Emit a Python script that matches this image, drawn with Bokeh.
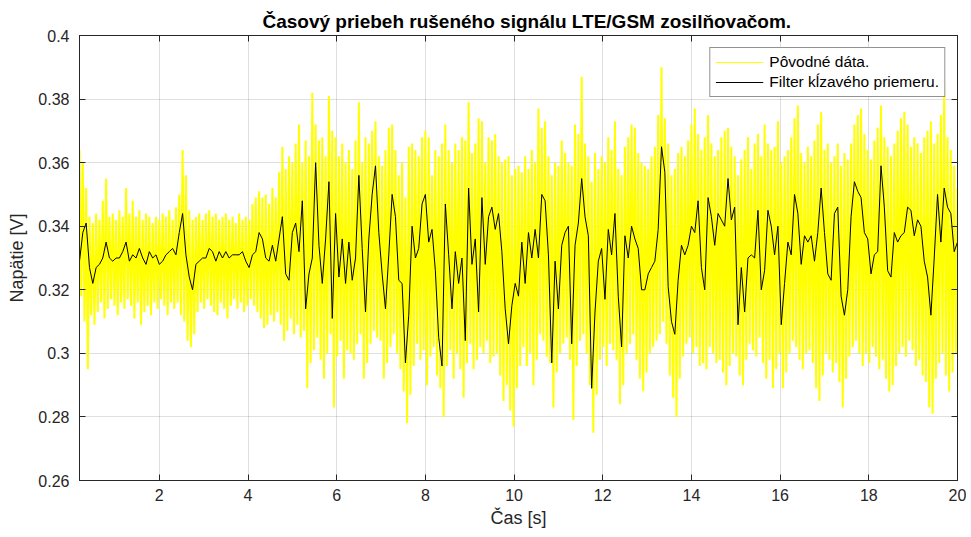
import numpy as np
from bokeh.plotting import figure
from bokeh.models import FixedTicker, LinearAxis, Range1d, Legend, LegendItem
from bokeh.embed import file_html
from bokeh.resources import INLINE

# ---- data ----
title_text = "Časový priebeh rušeného signálu LTE/GSM zosilňovačom."
x_label = "Čas [s]"
y_label = "Napätie [V]"
legend_labels = ["Pôvodné dáta.", "Filter kĺzavého priemeru."]
x_ticks = [2, 4, 6, 8, 10, 12, 14, 16, 18, 20]
y_ticks = [0.26, 0.28, 0.30, 0.32, 0.34, 0.36, 0.38, 0.40]
y_tick_labels = ["0.26", "0.28", "0.3", "0.32", "0.34", "0.36", "0.38", "0.4"]
t_start, t_end = 0.2, 20.0

# moving-average filter (black)
black = [
    0.329, 0.338, 0.341, 0.327, 0.322, 0.327, 0.328, 0.330, 0.335, 0.330,
    0.329, 0.330, 0.330, 0.332, 0.335, 0.329, 0.331, 0.330, 0.333, 0.330,
    0.328, 0.332, 0.330, 0.331, 0.328, 0.329, 0.331, 0.332, 0.333, 0.331,
    0.338, 0.344, 0.331, 0.324, 0.320, 0.328, 0.329, 0.330, 0.330, 0.333,
    0.332, 0.329, 0.332, 0.330, 0.332, 0.330, 0.331, 0.331, 0.331, 0.332,
    0.329, 0.327, 0.331, 0.332, 0.338, 0.336, 0.330, 0.329, 0.334, 0.329,
    0.336, 0.343, 0.325, 0.323, 0.338, 0.341, 0.332,
    0.348, 0.314, 0.325, 0.330, 0.360, 0.334, 0.322, 0.336, 0.354, 0.311,
    0.344, 0.324, 0.336, 0.322, 0.335, 0.323, 0.330, 0.356, 0.333, 0.313,
    0.336, 0.350, 0.359, 0.338, 0.325, 0.314, 0.331, 0.350, 0.343, 0.323,
    0.322, 0.297, 0.312, 0.340, 0.330, 0.333, 0.347, 0.350, 0.335, 0.339,
    0.326, 0.305, 0.296, 0.347, 0.331, 0.314, 0.332, 0.322, 0.330, 0.304,
    0.352, 0.328, 0.336, 0.313, 0.349, 0.328, 0.343, 0.346, 0.339, 0.344,
    0.332, 0.314, 0.303, 0.315, 0.322, 0.318,
    0.335, 0.322, 0.338, 0.330, 0.339, 0.330, 0.350, 0.348, 0.331, 0.297,
    0.329, 0.314, 0.334, 0.338, 0.340, 0.303, 0.334, 0.341, 0.355, 0.343,
    0.337, 0.289, 0.313, 0.329, 0.333, 0.317, 0.339, 0.331, 0.344, 0.318,
    0.302, 0.337, 0.330, 0.340, 0.336, 0.333, 0.320, 0.320, 0.325, 0.327,
    0.329, 0.339, 0.365, 0.357, 0.321, 0.310, 0.306, 0.323, 0.334, 0.331,
    0.334, 0.340, 0.338, 0.348, 0.327, 0.320, 0.349, 0.343, 0.334, 0.344,
    0.342, 0.340, 0.355, 0.342, 0.346, 0.309,
    0.327, 0.313, 0.330, 0.331, 0.330, 0.345, 0.320, 0.326, 0.345, 0.340,
    0.331, 0.340, 0.309, 0.322, 0.335, 0.331, 0.350, 0.344, 0.328, 0.337,
    0.335, 0.337, 0.329, 0.338, 0.352, 0.338, 0.325, 0.323, 0.344, 0.346,
    0.318, 0.312, 0.320, 0.343, 0.354, 0.351, 0.349, 0.338, 0.336, 0.325,
    0.331, 0.332, 0.359, 0.346, 0.326, 0.324, 0.338, 0.335, 0.337, 0.338,
    0.346, 0.345, 0.337, 0.342, 0.340, 0.329, 0.324, 0.312, 0.330, 0.350,
    0.335, 0.352, 0.346, 0.344, 0.332, 0.335,
]

# raw data (yellow): local spike tops and bottoms
raw_hi = [
    0.364, 0.360, 0.352, 0.343, 0.341, 0.344, 0.342, 0.348, 0.355, 0.343,
    0.344, 0.342, 0.345, 0.343, 0.352, 0.344, 0.348, 0.343, 0.345, 0.342,
    0.344, 0.343, 0.341, 0.343, 0.342, 0.344, 0.343, 0.345, 0.342, 0.346,
    0.350, 0.364, 0.356, 0.345, 0.342, 0.343, 0.344, 0.342, 0.344, 0.345,
    0.343, 0.344, 0.342, 0.343, 0.344, 0.342, 0.343, 0.341, 0.344, 0.342,
    0.343, 0.342, 0.347, 0.349, 0.351, 0.349, 0.350, 0.347, 0.352, 0.349,
    0.357, 0.365, 0.358, 0.362, 0.360, 0.366, 0.372,
    0.360, 0.367, 0.362, 0.382, 0.372, 0.367, 0.368, 0.362, 0.381, 0.370,
    0.368, 0.362, 0.366, 0.360, 0.364, 0.358, 0.367, 0.379, 0.360, 0.368,
    0.366, 0.370, 0.373, 0.362, 0.359, 0.364, 0.371, 0.372, 0.364, 0.356,
    0.360, 0.349, 0.365, 0.366, 0.364, 0.362, 0.368, 0.370, 0.368, 0.356,
    0.364, 0.362, 0.366, 0.372, 0.364, 0.360, 0.366, 0.364, 0.368, 0.367,
    0.379, 0.363, 0.366, 0.374, 0.373, 0.360, 0.368, 0.367, 0.369, 0.362,
    0.360, 0.361, 0.362, 0.356, 0.358, 0.359,
    0.357, 0.362, 0.358, 0.364, 0.360, 0.377, 0.371, 0.373, 0.362, 0.356,
    0.360, 0.359, 0.367, 0.363, 0.360, 0.359, 0.372, 0.369, 0.387, 0.366,
    0.362, 0.354, 0.363, 0.358, 0.362, 0.360, 0.368, 0.364, 0.373, 0.358,
    0.356, 0.365, 0.368, 0.372, 0.371, 0.363, 0.360, 0.359, 0.358, 0.362,
    0.365, 0.375, 0.390, 0.374, 0.366, 0.356, 0.358, 0.363, 0.365, 0.362,
    0.367, 0.372, 0.377, 0.369, 0.364, 0.368, 0.375, 0.366, 0.362, 0.364,
    0.368, 0.370, 0.371, 0.365, 0.362, 0.356,
    0.361, 0.364, 0.368, 0.358, 0.366, 0.369, 0.362, 0.372, 0.366, 0.364,
    0.365, 0.373, 0.360, 0.362, 0.364, 0.368, 0.374, 0.378, 0.363, 0.360,
    0.365, 0.362, 0.367, 0.372, 0.376, 0.364, 0.366, 0.360, 0.362, 0.366,
    0.359, 0.363, 0.361, 0.366, 0.372, 0.375, 0.377, 0.369, 0.364, 0.361,
    0.367, 0.371, 0.378, 0.368, 0.365, 0.362, 0.366, 0.370, 0.374, 0.376,
    0.372, 0.365, 0.368, 0.366, 0.363, 0.368, 0.370, 0.373, 0.366, 0.369,
    0.375, 0.385, 0.368, 0.364, 0.359, 0.352,
]
raw_lo = [
    0.318, 0.310, 0.295, 0.312, 0.309, 0.313, 0.316, 0.311, 0.314, 0.317,
    0.315, 0.312, 0.316, 0.314, 0.317, 0.315, 0.311, 0.316, 0.309, 0.313,
    0.315, 0.312, 0.316, 0.314, 0.317, 0.315, 0.312, 0.316, 0.314, 0.316,
    0.312, 0.310, 0.304, 0.302, 0.306, 0.313, 0.316, 0.314, 0.317, 0.315,
    0.313, 0.312, 0.316, 0.314, 0.311, 0.315, 0.317, 0.314, 0.316, 0.313,
    0.315, 0.317, 0.315, 0.313, 0.311, 0.308, 0.309, 0.312, 0.310, 0.313,
    0.309, 0.304, 0.307, 0.311, 0.306, 0.309, 0.305,
    0.307, 0.289, 0.297, 0.301, 0.305, 0.298, 0.292, 0.300, 0.306, 0.283,
    0.299, 0.304, 0.292, 0.301, 0.300, 0.298, 0.303, 0.306, 0.292, 0.297,
    0.303, 0.307, 0.305, 0.304, 0.292, 0.297, 0.302, 0.306, 0.300, 0.295,
    0.288, 0.278, 0.287, 0.296, 0.303, 0.298, 0.301, 0.290, 0.299, 0.302,
    0.293, 0.289, 0.280, 0.296, 0.301, 0.292, 0.300, 0.295, 0.286, 0.297,
    0.303, 0.295, 0.298, 0.302, 0.300, 0.304, 0.297, 0.299, 0.300, 0.293,
    0.285, 0.290, 0.282, 0.277, 0.289, 0.296,
    0.302, 0.296, 0.300, 0.290, 0.298, 0.306, 0.304, 0.299, 0.297, 0.283,
    0.294, 0.300, 0.303, 0.305, 0.298, 0.279, 0.296, 0.304, 0.306, 0.300,
    0.290, 0.275, 0.287, 0.298, 0.302, 0.296, 0.303, 0.301, 0.298, 0.284,
    0.290, 0.300, 0.303, 0.306, 0.298, 0.292, 0.288, 0.294, 0.300, 0.302,
    0.304, 0.306, 0.310, 0.303, 0.293, 0.286, 0.280, 0.292, 0.299, 0.303,
    0.305, 0.300, 0.302, 0.296, 0.297, 0.295, 0.302, 0.300, 0.297, 0.298,
    0.294, 0.290, 0.296, 0.300, 0.299, 0.293,
    0.290, 0.298, 0.303, 0.301, 0.299, 0.305, 0.297, 0.292, 0.298, 0.289,
    0.295, 0.300, 0.289, 0.294, 0.300, 0.304, 0.302, 0.298, 0.295, 0.300,
    0.301, 0.297, 0.289, 0.285, 0.293, 0.300, 0.298, 0.294, 0.297, 0.291,
    0.283, 0.292, 0.299, 0.302, 0.304, 0.300, 0.296, 0.300, 0.297, 0.302,
    0.299, 0.295, 0.298, 0.292, 0.288, 0.290, 0.296, 0.300, 0.302, 0.299,
    0.304, 0.301, 0.296, 0.298, 0.293, 0.291, 0.283, 0.281, 0.292, 0.297,
    0.300, 0.293, 0.288, 0.294, 0.300, 0.302,
]

# ---- build series ----
n = len(black)
t = np.linspace(t_start, t_end, n)
dt = t[1] - t[0]
m = min(len(raw_hi), len(raw_lo), n)
raw_t = np.empty(2 * m)
raw_v = np.empty(2 * m)
raw_t[0::2] = t[:m]
raw_t[1::2] = np.minimum(t[:m] + dt / 2, t_end)
raw_v[0::2] = raw_hi[:m]
raw_v[1::2] = raw_lo[:m]

FONT = "Liberation Sans"
AX = "#262626"

p = figure(width=966, height=533, output_backend="svg", toolbar_location=None,
           x_range=Range1d(t_start, t_end), y_range=Range1d(0.26, 0.40),
           min_border_left=79, min_border_right=9, min_border_top=35,
           min_border_bottom=53)
p.background_fill_color = "white"
p.border_fill_color = "white"
p.outline_line_color = AX
p.outline_line_width = 1

p.title.text = title_text
p.title.align = "left"
p.title.text_font = FONT
p.title.text_font_size = "19px"
p.title.text_font_style = "bold"
p.title.text_color = "black"
p.title.offset = 183
p.title.standoff = 7

r_raw = p.line(raw_t, raw_v, color="#ffff00", line_width=2)
r_avg = p.line(t, black, color="black", line_width=1)
# thin legend swatch for the raw data (no visible data of its own)
r_raw_key = p.line(x=[float("nan")], y=[float("nan")], color="#ffff00", line_width=1)

def style_axis(ax, labels=True):
    ax.axis_line_color = AX
    ax.major_tick_line_color = AX
    ax.minor_tick_line_color = None
    ax.major_tick_in = 6
    ax.major_tick_out = 0
    ax.major_label_text_font = FONT
    ax.major_label_text_font_size = "16px" if labels else "0px"
    ax.major_label_text_color = AX
    ax.axis_label_text_font = FONT
    ax.axis_label_text_font_size = "18px"
    ax.axis_label_text_font_style = "normal"
    ax.axis_label_text_color = AX

for ax in p.xaxis:
    ax.ticker = FixedTicker(ticks=x_ticks)
    ax.axis_label = x_label
    ax.major_label_standoff = 8
    ax.axis_label_standoff = 4
    style_axis(ax)
for ax in p.yaxis:
    ax.ticker = FixedTicker(ticks=y_ticks)
    ax.major_label_overrides = {v: s for v, s in zip(y_ticks, y_tick_labels)}
    ax.axis_label = y_label
    ax.major_label_standoff = 10
    ax.axis_label_standoff = 8
    style_axis(ax)

top = LinearAxis(ticker=FixedTicker(ticks=x_ticks), major_label_standoff=0)
style_axis(top, labels=False)
p.add_layout(top, "above")
right = LinearAxis(ticker=FixedTicker(ticks=y_ticks), major_label_standoff=0)
style_axis(right, labels=False)
p.add_layout(right, "right")

p.xgrid.ticker = FixedTicker(ticks=x_ticks)
p.ygrid.ticker = FixedTicker(ticks=y_ticks)
for g in (p.xgrid[0], p.ygrid[0]):
    g.grid_line_color = AX
    g.grid_line_alpha = 0.15

legend = Legend(items=[LegendItem(label=legend_labels[0], renderers=[r_raw_key]),
                       LegendItem(label=legend_labels[1], renderers=[r_avg])],
                location="top_right")
legend.label_text_font = FONT
legend.label_text_font_size = "15.5px"
legend.label_text_color = "black"
legend.glyph_width = 48
legend.glyph_height = 16
legend.label_height = 16
legend.spacing = 2
legend.padding = 5
legend.margin = 12
legend.label_standoff = 6
legend.border_line_color = AX
legend.border_line_width = 1
legend.background_fill_alpha = 1
p.add_layout(legend, "center")

open("out.html", "w").write(file_html(p, INLINE))
